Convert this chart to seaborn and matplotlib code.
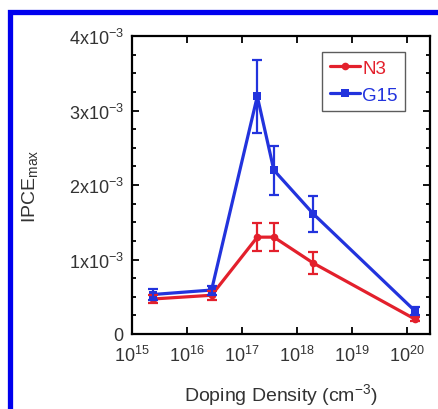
import numpy as np
import pandas as pd
import seaborn as sns
import matplotlib
matplotlib.use("Agg")
import matplotlib.pyplot as plt
from matplotlib.patches import Rectangle
from matplotlib.ticker import FixedLocator, LogLocator, NullFormatter, MultipleLocator

# ---- data ----
doping = [2.4e15, 2.8e16, 1.9e17, 3.8e17, 2.0e18, 1.4e20]
n3_vals = [0.47e-3, 0.52e-3, 1.30e-3, 1.30e-3, 0.95e-3, 0.20e-3]
n3_err = [0.06e-3, 0.06e-3, 0.19e-3, 0.19e-3, 0.15e-3, 0.03e-3]
g15_vals = [0.53e-3, 0.59e-3, 3.19e-3, 2.20e-3, 1.61e-3, 0.31e-3]
g15_err = [0.07e-3, 0.06e-3, 0.49e-3, 0.33e-3, 0.24e-3, 0.05e-3]
series_names = ["N3", "G15"]
y_ticks = [0, 1e-3, 2e-3, 3e-3, 4e-3]
y_tick_labels = ["0", "1x10$^{-3}$", "2x10$^{-3}$", "3x10$^{-3}$", "4x10$^{-3}$"]
x_ticks = [1e15, 1e16, 1e17, 1e18, 1e19, 1e20]
x_tick_labels = ["10$^{15}$", "10$^{16}$", "10$^{17}$", "10$^{18}$", "10$^{19}$", "10$^{20}$"]

red = "#e3202c"
blue = "#2233dd"
text_c = "#333333"

sns.set_theme(style="ticks")
plt.rcParams["font.family"] = ["Liberation Sans", "DejaVu Sans"]
plt.rcParams["mathtext.fontset"] = "custom"
plt.rcParams["mathtext.rm"] = "Liberation Sans"
plt.rcParams["mathtext.it"] = "Liberation Sans:italic"

df = pd.DataFrame({
    "doping": doping * 2,
    "ipce": n3_vals + g15_vals,
    "series": [series_names[0]] * len(doping) + [series_names[1]] * len(doping),
})

fig = plt.figure(figsize=(4.38, 4.10), dpi=100)
ax = fig.add_axes([132 / 438, 1 - 335 / 410, 298 / 438, 298 / 410])

sns.lineplot(data=df, x="doping", y="ipce", hue="series", style="series",
             palette={"N3": red, "G15": blue},
             markers={"N3": "o", "G15": "s"}, dashes=False,
             markersize=5.5, linewidth=2.3, markeredgewidth=0, ax=ax, legend=True)

ax.errorbar(doping, n3_vals, yerr=n3_err, fmt="none", ecolor=red,
            elinewidth=1.6, capsize=3.5, capthick=1.6, zorder=3)
ax.errorbar(doping, g15_vals, yerr=g15_err, fmt="none", ecolor=blue,
            elinewidth=1.6, capsize=3.5, capthick=1.6, zorder=3)

ax.set_xscale("log")
ax.set_xlim(1e15, 10 ** 20.42)
ax.set_ylim(0, 4e-3)

ax.xaxis.set_major_locator(FixedLocator(x_ticks))
ax.set_xticklabels(x_tick_labels)
ax.xaxis.set_minor_locator(LogLocator(base=10, subs=np.arange(2, 10)))
ax.xaxis.set_minor_formatter(NullFormatter())
ax.yaxis.set_major_locator(FixedLocator(y_ticks))
ax.set_yticklabels(y_tick_labels)
ax.yaxis.set_minor_locator(MultipleLocator(0.25e-3))

ax.tick_params(which="both", direction="in", top=True, right=True,
               width=1.3, color="black", labelcolor=text_c)
ax.tick_params(which="major", length=5, pad=6, labelsize=13)
ax.tick_params(which="minor", length=3)
ax.tick_params(axis="x", pad=8)
for s in ax.spines.values():
    s.set_linewidth(1.6)
    s.set_color("black")

ax.set_xlabel("Doping Density (cm$^{-3}$)", fontsize=14, color=text_c)
ax.set_ylabel("IPCE$_{\\mathrm{max}}$", fontsize=14, color=text_c)
ax.xaxis.set_label_coords(0.5, -0.158)
ax.yaxis.set_label_coords(-0.31, 0.5)

leg = ax.legend(loc="upper left", bbox_to_anchor=(0.638, 0.945), fontsize=13.5,
                frameon=True, fancybox=False, edgecolor="#333333",
                handlelength=1.6, handletextpad=0.15, borderpad=0.4,
                labelspacing=0.5, borderaxespad=0)
leg.get_frame().set_linewidth(1.0)
for txt, c in zip(leg.get_texts(), [red, blue]):
    txt.set_color(c)

# blue frame around figure
fig.patches.append(Rectangle((9.5 / 438, 0 - 0.1), 1.2, (410 - 13) / 410 + 0.1,
                             transform=fig.transFigure, fill=False,
                             edgecolor="#0000ee", linewidth=3.8, zorder=10))

fig.savefig("out.png", dpi=100)
